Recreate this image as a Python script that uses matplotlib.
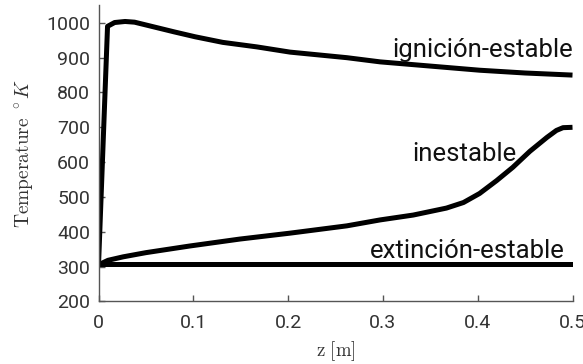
import matplotlib
matplotlib.use("Agg")
import matplotlib.pyplot as plt

plt.rcParams["mathtext.fontset"] = "cm"

# Temperature profiles along the reactor axis
z_ign = [0, 0.0095, 0.017, 0.028, 0.038, 0.059, 0.080, 0.102, 0.131, 0.167,
         0.202, 0.262, 0.297, 0.332, 0.402, 0.45, 0.5]
T_ign = [305, 990, 1001, 1004, 1002, 988, 974, 960, 944, 931,
         916, 900, 888, 880, 864, 856, 850]

z_ine = [0, 0.01, 0.026, 0.05, 0.096, 0.149, 0.202, 0.262, 0.297, 0.332,
         0.367, 0.385, 0.402, 0.420, 0.437, 0.455, 0.473, 0.483, 0.490, 0.5]
T_ine = [305, 318, 328, 340, 359, 379, 396, 417, 434, 448,
         468, 484, 510, 547, 585, 631, 671, 691, 699, 700]

z_ext = [0, 0.5]
T_ext = [306, 306]

labels = ["ignición-estable", "inestable", "extinción-estable"]
label_pos = [(0.5003, 921), (0.441, 624), (0.492, 345)]

x_ticks = [0, 0.1, 0.2, 0.3, 0.4, 0.5]
x_ticklabels = ["0", "0.1", "0.2", "0.3", "0.4", "0.5"]
y_ticks = [200, 300, 400, 500, 600, 700, 800, 900, 1000]

fig = plt.figure(figsize=(5.83, 3.64), dpi=100)
ax = fig.add_axes([0.169, 0.172, 0.813, 0.813])

for z, T in [(z_ign, T_ign), (z_ine, T_ine), (z_ext, T_ext)]:
    ax.plot(z, T, color="black", lw=3.6, solid_joinstyle="round", solid_capstyle="butt")

for text, (x, y) in zip(labels, label_pos):
    ax.text(x, y, text, ha="right", va="center", fontsize=18.5,
            family="Roboto", color="#111111")

ax.set_xlim(0, 0.5)
ax.set_ylim(200, 1050)
ax.set_xticks(x_ticks)
ax.set_xticklabels(x_ticklabels)
ax.set_yticks(y_ticks)

for s in ["top", "right"]:
    ax.spines[s].set_visible(False)
for s in ["left", "bottom"]:
    ax.spines[s].set_color("#555555")
    ax.spines[s].set_linewidth(1.0)

ax.tick_params(direction="in", length=4, width=1, color="#555555",
               labelcolor="#333333", labelsize=14, pad=6)
ax.tick_params(axis="x", pad=9)
for lab in ax.get_xticklabels() + ax.get_yticklabels():
    lab.set_family("Roboto")

ax.set_xlabel(r"$\mathrm{z\ [m]}$", fontsize=13.5, color="#333333", labelpad=5)
ax.set_ylabel(r"$\mathrm{Temperature}\ ^\circ K$", fontsize=14, color="#333333", labelpad=7)

fig.savefig("out.png", dpi=100)
